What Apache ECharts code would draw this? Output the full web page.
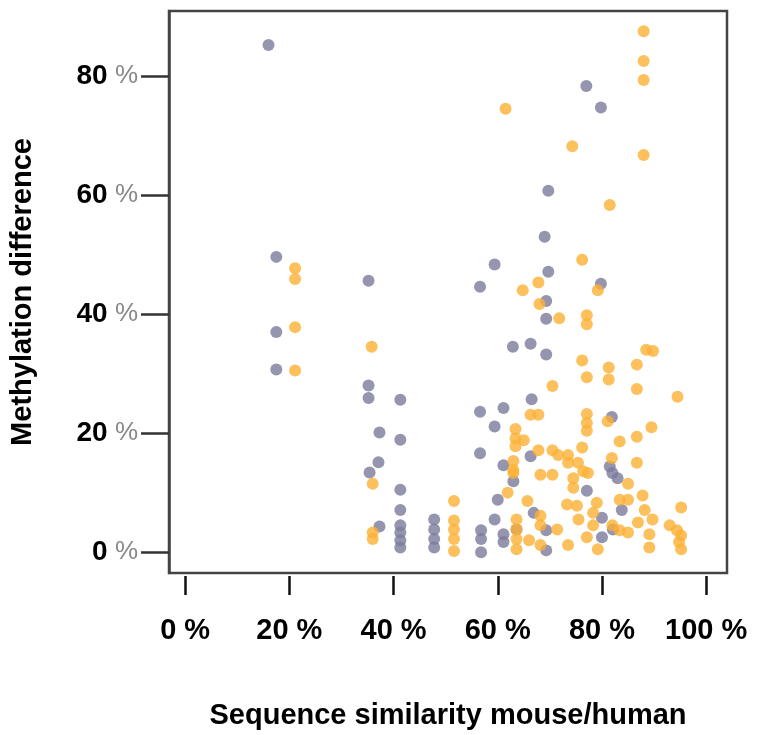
<!DOCTYPE html>
<html>
<head>
<meta charset="utf-8">
<script src="https://cdn.jsdelivr.net/npm/echarts@6/dist/echarts.min.js"></script>
<style>
    html, body { margin: 0; padding: 0; background: #fff; }
    #chart { width: 769px; height: 735px; }
</style>
</head>
<body>
<div id="chart"></div>
<script>
// tick values (percent)
var xTicks = [0, 20, 40, 60, 80, 100];
var yTicks = [0, 20, 40, 60, 80];

// grey/purple group: [similarity %, methylation difference %]
var purplePoints = [
    [16.0, 85.2], [17.5, 49.6], [17.5, 37.0], [17.5, 30.7],
    [35.2, 45.6], [35.2, 28.0], [35.2, 25.9], [41.3, 25.6], [37.3, 20.1], [41.3, 18.9],
    [37.1, 15.1], [35.4, 13.4], [41.3, 10.5], [41.3, 7.1], [37.3, 4.3],
    [41.3, 4.5], [41.3, 3.3], [41.3, 2.0], [41.3, 0.8],
    [47.8, 5.5], [47.8, 3.8], [47.8, 2.2], [47.8, 0.8],
    [56.6, 44.6], [59.4, 48.3], [69.7, 60.7], [69.0, 53.0], [69.7, 47.1], [79.8, 45.1],
    [77.0, 78.3], [79.8, 74.7], [69.3, 42.2], [69.3, 39.2], [62.9, 34.5], [66.3, 35.0],
    [69.3, 33.2], [66.5, 25.7], [56.6, 23.6], [61.1, 24.2], [59.4, 21.1], [81.9, 22.7],
    [56.6, 16.6], [66.3, 16.1], [61.1, 14.6], [63.0, 11.9], [60.0, 8.8], [59.4, 5.5],
    [56.8, 3.7], [56.8, 2.2], [56.8, 0.0], [61.1, 3.0], [61.1, 1.7], [63.6, 3.8],
    [69.3, 3.7], [69.3, 0.3], [66.9, 6.6], [77.1, 10.3], [81.5, 14.4], [82.0, 13.3],
    [83.0, 12.4], [83.8, 7.1], [80.0, 5.8], [80.0, 2.5], [82.1, 3.8]
];

// orange group
var orangePoints = [
    [21.1, 47.7], [21.1, 45.9], [21.1, 37.8], [21.1, 30.5],
    [35.8, 34.5], [36.0, 11.5], [36.0, 3.3], [36.0, 2.2],
    [51.6, 8.6], [51.6, 5.3], [51.6, 3.8], [51.6, 2.2], [51.6, 0.2],
    [88.0, 87.5], [88.0, 82.5], [88.0, 79.3], [61.5, 74.5], [74.3, 68.2], [88.0, 66.7],
    [81.5, 58.3], [76.2, 49.1], [67.8, 45.3], [64.8, 44.0], [79.2, 44.0],
    [68.0, 41.7], [71.8, 39.3], [77.1, 39.8], [77.1, 38.3], [76.2, 32.2], [88.5, 34.0],
    [89.8, 33.8], [81.3, 31.0], [81.3, 29.0], [77.1, 29.4], [86.7, 31.5], [70.5, 27.9],
    [86.7, 27.4], [94.5, 26.1],
    [66.3, 23.1], [67.8, 23.1], [77.1, 23.2], [77.1, 21.7], [77.1, 20.4], [81.1, 22.0],
    [89.5, 21.0], [63.4, 20.7], [63.4, 19.1], [63.4, 17.8], [65.0, 18.8], [86.7, 19.4],
    [83.4, 18.6], [76.2, 17.6], [67.8, 17.1], [70.5, 17.1], [71.6, 16.3], [73.5, 16.3],
    [73.5, 15.0], [63.0, 15.3], [63.0, 13.8], [63.0, 13.3], [75.4, 15.0], [76.4, 13.6],
    [77.3, 13.3], [81.9, 15.8], [86.7, 15.0], [68.2, 13.0], [70.5, 13.0], [74.5, 12.4],
    [74.5, 10.8], [85.0, 11.5], [61.9, 10.0], [65.7, 8.6], [73.3, 8.0], [75.2, 7.8],
    [79.0, 8.3], [83.4, 8.8], [85.0, 8.8], [87.8, 9.5], [95.2, 7.5], [88.2, 7.1],
    [63.6, 5.5], [63.6, 3.8], [63.6, 2.2], [63.6, 0.5], [68.2, 6.1], [68.2, 4.5],
    [68.2, 1.2], [71.4, 3.8], [73.5, 1.2], [78.3, 6.6], [78.3, 4.5], [77.1, 2.5],
    [79.2, 0.5], [82.0, 4.5], [83.4, 3.7], [85.0, 3.3], [86.9, 5.0], [89.1, 3.0],
    [89.7, 5.5], [89.1, 0.8], [93.0, 4.5], [94.4, 3.7], [95.2, 2.8], [94.8, 1.7],
    [95.2, 0.5], [66.0, 2.0], [75.5, 5.5]
];

var chart = echarts.init(document.getElementById("chart"));

var option = {
    animation: false,
    textStyle: { fontFamily: "Liberation Sans, Arial, sans-serif" },
    grid: {
        left: 163,
        right: 42,
        top: 11,
        bottom: 152,
        show: true,
        borderColor: "#444",
        borderWidth: 2.5,
        backgroundColor: "#fff"
    },
    xAxis: {
        type: "value",
        min: -3.1,
        max: 104,
        offset: 3,
        name: "Sequence similarity mouse/human",
        nameLocation: "middle",
        nameGap: 125,
        nameTextStyle: { color: "#000", fontSize: 29, fontWeight: "bold" },
        // no axis line, only the ticks below the frame
        axisLine: { show: false, onZero: false },
        axisTick: {
            show: true,
            length: 19,
            customValues: xTicks,
            lineStyle: { color: "#111", width: 2.5 }
        },
        axisLabel: {
            customValues: xTicks,
            margin: 40,
            color: "#000",
            fontSize: 29,
            fontWeight: "bold",
            formatter: function (v) { return v + " %"; }
        },
        splitLine: { show: false }
    },
    yAxis: {
        type: "value",
        min: -3.5,
        max: 90.9,
        name: "Methylation difference",
        nameLocation: "middle",
        nameRotate: 90,
        nameGap: 132,
        nameTextStyle: { color: "#000", fontSize: 29, fontWeight: "bold" },
        axisLine: { show: true, onZero: false, lineStyle: { color: "#444", width: 2.5 } },
        axisTick: {
            show: true,
            length: 28,
            customValues: yTicks,
            lineStyle: { color: "#333", width: 2.5 }
        },
        axisLabel: {
            customValues: yTicks,
            margin: 31,
            formatter: function (v) { return "{n|" + v + "}{p| %}"; },
            rich: {
                n: { color: "#000", fontSize: 28, fontWeight: "bold" },
                p: { color: "#888", fontSize: 26 }
            }
        },
        splitLine: { show: false }
    },
    series: [
        {
            name: "purple",
            type: "scatter",
            symbolSize: 12,
            itemStyle: { color: "#7b7a9b" },
            data: purplePoints
        },
        {
            name: "orange",
            type: "scatter",
            symbolSize: 12,
            itemStyle: { color: "#fbb034" },
            data: orangePoints
        }
    ]
};

chart.setOption(option);
</script>
</body>
</html>
